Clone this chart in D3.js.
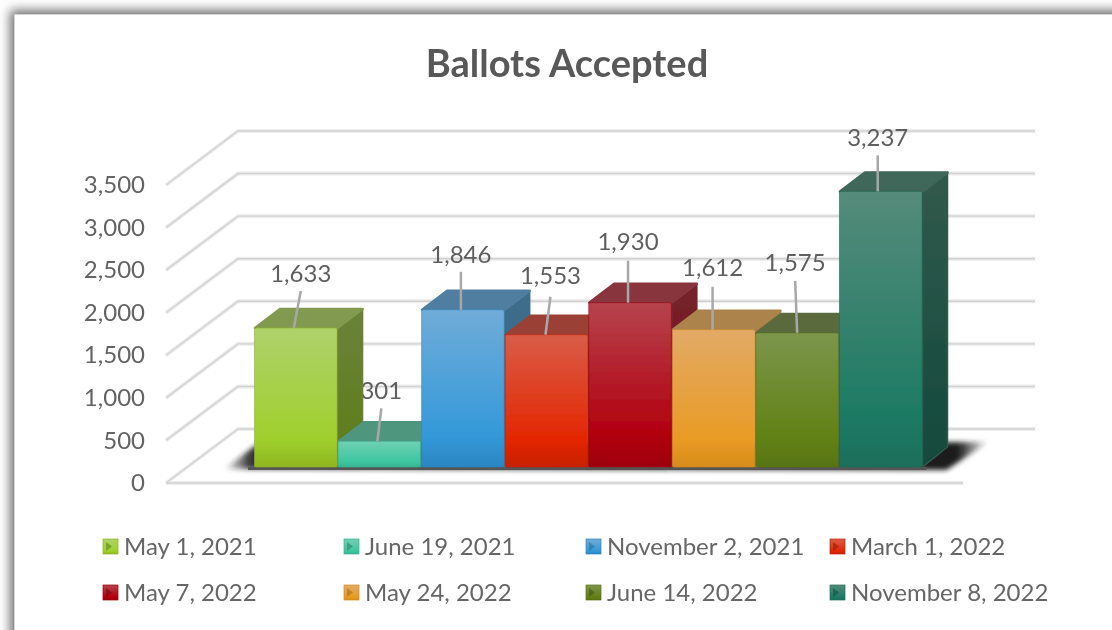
<!DOCTYPE html>
<html>
<head>
<meta charset="utf-8">
<script src="https://cdn.jsdelivr.net/npm/d3@7/dist/d3.min.js"></script>
<style>
html, body { margin: 0; padding: 0; background: #fff; overflow: hidden; }
text { font-family: Lato, "Open Sans", sans-serif; }
</style>
</head>
<body>
<svg class="rend_chart"></svg>
<script>
/////////////// data ////////////////
const DATES = ["May 1, 2021", "June 19, 2021", "November 2, 2021", "March 1, 2022",
    "May 7, 2022", "May 24, 2022", "June 14, 2022", "November 8, 2022"];
const BALLOTS = [1633, 301, 1846, 1553, 1930, 1612, 1575, 3237];
const Y_TICKS = [0, 500, 1000, 1500, 2000, 2500, 3000, 3500];
// front face: top, lower middle, bottom
const FRONT_TOP = ["#afd16c", "#70d0b2", "#70acd8", "#d95d48", "#b6434d", "#e2aa67", "#7c964c", "#558b7a"];
const FRONT_MID = ["#9fd02c", "#3dc6a1", "#3499d9", "#e32600", "#b2000f", "#e99b24", "#618014", "#1e7b64"];
const FRONT_BOT = ["#8fb622", "#35b48f", "#2b86c0", "#c82000", "#9e000e", "#d68c1a", "#587412", "#1a6e5a"];
const TOP_FACE = ["#819a50", "#50967f", "#4f7ea0", "#9a4035", "#88343c", "#ac844c", "#5a6b3c", "#41675a"];
const SIDE_TOP = ["#6b8238", "#3f7f6c", "#3f6d8a", "#84342a", "#75252d", "#a07a40", "#4e5f30", "#32594c"];
const SIDE_BOT = ["#5d7d1a", "#2a7a62", "#2a6a90", "#8a1c05", "#700008", "#a06a14", "#3e5410", "#114a3c"];

/////////////// layout ////////////////
const W = 1112;
const H = 630;
const FRONT_X0 = 166;     // front edge of the floor
const FRONT_X1 = 963;
const DEPTH_X = 72;       // how far the back wall is shifted
const DEPTH_Y = 54;
const BAR_BASE_SHIFT = 16;
const BAR_DEPTH_X = 26;
const BAR_DEPTH_Y = 20;
// label offsets from the bar's front top centre
const LABEL_DX = [5, 2, -2, 4, -2, -1, -2, -3];
const LABEL_DY = [55, 51, 56, 60, 62, 63, 71, 54];
const LEADER_GAP = [18, 18, 18, 22, 20, 20, 19, 18];
const LEADER_X0 = [-2, -2, -2, -1, -2, -1, 0, -3];
const LEGEND_COLS = [103, 344, 586, 830];
const LEGEND_ROWS = [546, 592];

const SCL_Y = d3.scaleLinear().domain([0, 3500]).range([483, 185]);
const SCL_BAR_X = d3.scaleBand().domain(DATES).range([254, 922.5]).padding(0);

const SVG = d3.select(".rend_chart")
    .attr("width", W)
    .attr("height", H)
    .style("display", "block");
const DEFS = SVG.append("defs");

DEFS.append("filter").attr("id", "winShadow")
    .attr("x", -0.1).attr("y", -0.1).attr("width", 1.2).attr("height", 1.2)
    .append("feGaussianBlur").attr("stdDeviation", 5.5);
DEFS.append("filter").attr("id", "floorShadow")
    .attr("x", -0.1).attr("y", -0.5).attr("width", 1.2).attr("height", 2)
    .append("feGaussianBlur").attr("stdDeviation", 2.5);
// the source picture is a soft upscale
DEFS.append("filter").attr("id", "soft")
    .attr("filterUnits", "userSpaceOnUse")
    .attr("x", 0).attr("y", 0).attr("width", W).attr("height", H)
    .append("feGaussianBlur").attr("stdDeviation", 0.6);

function vGrad(id, stops) {
    const g = DEFS.append("linearGradient").attr("id", id)
        .attr("x1", 0).attr("y1", 0).attr("x2", 0).attr("y2", 1);
    stops.forEach(s => g.append("stop").attr("offset", s[0]).attr("stop-color", s[1]));
}
DATES.forEach((d, i) => {
    vGrad(`front${i}`, [[0, FRONT_TOP[i]], [0.8, FRONT_MID[i]], [1, FRONT_BOT[i]]]);
    vGrad(`side${i}`, [[0, SIDE_TOP[i]], [1, SIDE_BOT[i]]]);
});
// floor shadow fades out at both ends
const SHADOW_GRAD = DEFS.append("linearGradient").attr("id", "shadowFade")
    .attr("x1", 0).attr("y1", 0).attr("x2", 1).attr("y2", 0);
[[0, 0], [0.035, 0.9], [0.96, 1], [1, 0]].forEach(s => {
    SHADOW_GRAD.append("stop").attr("offset", s[0])
        .attr("stop-color", "#1c1c1c").attr("stop-opacity", s[1]);
});

/////////////// window shadow ////////////////
SVG.append("rect")
    .attr("x", 10).attr("y", 10).attr("width", W + 60).attr("height", H + 60)
    .attr("fill", "#707070").attr("filter", "url(#winShadow)");
SVG.append("rect")
    .attr("x", 14.5).attr("y", 14.5).attr("width", W + 60).attr("height", H + 60)
    .attr("fill", "#fff").attr("stroke", "#d4d4d4");

const CHART = SVG.append("g").attr("filter", "url(#soft)");

/////////////// title ////////////////
CHART.append("text")
    .attr("x", 567).attr("y", 77)
    .attr("text-anchor", "middle")
    .attr("font-size", 38).attr("font-weight", 700)
    .attr("fill", "#595959")
    .text("Ballots Accepted");

/////////////// grid ////////////////
const GRID_GRP = CHART.append("g").attr("fill", "none");
function gridLine(d) {
    const y0 = SCL_Y(d);
    return d3.line()([[FRONT_X0, y0], [FRONT_X0 + DEPTH_X, y0 - DEPTH_Y], [FRONT_X1 + DEPTH_X, y0 - DEPTH_Y]]);
}
[["#ececec", 4], ["#d2d2d2", 1.4]].forEach(s => {
    GRID_GRP.selectAll(null)
        .data(Y_TICKS)
        .enter()
        .append("path")
        .attr("d", gridLine)
        .attr("stroke", s[0])
        .attr("stroke-width", s[1]);
    GRID_GRP.append("line")
        .attr("x1", FRONT_X0).attr("x2", FRONT_X1)
        .attr("y1", SCL_Y(0)).attr("y2", SCL_Y(0))
        .attr("stroke", s[0])
        .attr("stroke-width", s[1]);
});

/////////////// y axis ////////////////
const AXIS_GRP = CHART.append("g")
    .attr("transform", "translate(145, 0)")
    .call(d3.axisLeft(SCL_Y).tickValues(Y_TICKS).tickSize(0).tickPadding(0).tickFormat(d3.format(",")));
AXIS_GRP.select(".domain").remove();
AXIS_GRP.selectAll("text")
    .attr("font-size", 24)
    .attr("font-family", "Lato")
    .attr("fill", "#636363");

/////////////// floor shadow ////////////////
const BASE_Y = SCL_Y(0) - BAR_BASE_SHIFT;
const BAR_LEFT = SCL_BAR_X(DATES[0]);
const BAR_RIGHT = SCL_BAR_X(DATES[7]) + SCL_BAR_X.bandwidth();
CHART.append("path")
    .attr("d", d3.line()([[BAR_LEFT - 30, BASE_Y + 2], [BAR_LEFT + 2, BASE_Y - 22],
        [BAR_RIGHT + 66, BASE_Y - 25], [BAR_RIGHT + 24, BASE_Y + 3]]) + "Z")
    .attr("fill", "url(#shadowFade)")
    .attr("filter", "url(#floorShadow)");
CHART.append("line")
    .attr("x1", BAR_LEFT - 6).attr("x2", BAR_RIGHT + 4)
    .attr("y1", BASE_Y + 1.5).attr("y2", BASE_Y + 1.5)
    .attr("stroke", "#555").attr("stroke-width", 3);

/////////////// data labels ////////////////
// text goes under the bars: the green bar clips the 3 of 301 in the original
const BAR_CX = d => SCL_BAR_X(d) + SCL_BAR_X.bandwidth() / 2;
const BAR_TOP = v => BASE_Y - (SCL_Y(0) - SCL_Y(v));
CHART.append("g").selectAll("text")
    .data(DATES)
    .enter()
    .append("text")
    .attr("x", (d, i) => BAR_CX(d) + LABEL_DX[i])
    .attr("y", (d, i) => BAR_TOP(BALLOTS[i]) - LABEL_DY[i] + 9)
    .attr("text-anchor", "middle")
    .attr("font-size", 24)
    .attr("fill", "#5e5e5e")
    .text((d, i) => d3.format(",")(BALLOTS[i]));

/////////////// bars ////////////////
const BAR_GRP = CHART.append("g");
DATES.forEach((d, i) => {
    const x0 = SCL_BAR_X(d);
    const x1 = x0 + SCL_BAR_X.bandwidth();
    const top = BAR_TOP(BALLOTS[i]);
    const g = BAR_GRP.append("g").attr("stroke-linejoin", "round");
    // side
    g.append("path")
        .attr("d", d3.line()([[x1, top], [x1 + BAR_DEPTH_X - 1, top - BAR_DEPTH_Y + 1],
            [x1 + BAR_DEPTH_X - 1, BASE_Y - BAR_DEPTH_Y], [x1, BASE_Y]]) + "Z")
        .attr("fill", `url(#side${i})`)
        .attr("stroke", SIDE_TOP[i]).attr("stroke-width", 1.5);
    // top
    g.append("path")
        .attr("d", d3.line()([[x0 + 1, top], [x0 + BAR_DEPTH_X, top - BAR_DEPTH_Y + 1],
            [x1 + BAR_DEPTH_X - 1, top - BAR_DEPTH_Y + 1], [x1, top]]) + "Z")
        .attr("fill", TOP_FACE[i])
        .attr("stroke", TOP_FACE[i]).attr("stroke-width", 2.5);
    // front
    g.append("rect")
        .attr("x", x0 + 0.5).attr("y", top)
        .attr("width", x1 - x0 - 1).attr("height", BASE_Y - top)
        .attr("rx", 1.5)
        .attr("fill", `url(#front${i})`)
        .attr("stroke", FRONT_BOT[i]).attr("stroke-opacity", 0.6).attr("stroke-width", 1);
});

/////////////// leader lines ////////////////
CHART.append("g").selectAll("line")
    .data(DATES)
    .enter()
    .append("line")
    .attr("x1", (d, i) => BAR_CX(d) + LEADER_X0[i])
    .attr("y1", (d, i) => BAR_TOP(BALLOTS[i]))
    .attr("x2", (d, i) => BAR_CX(d) + LABEL_DX[i])
    .attr("y2", (d, i) => BAR_TOP(BALLOTS[i]) - LABEL_DY[i] + LEADER_GAP[i])
    .attr("stroke", "#a8a8a8")
    .attr("stroke-width", 2.5);

/////////////// legend ////////////////
const LEGEND = CHART.append("g").selectAll("g")
    .data(DATES)
    .enter()
    .append("g")
    .attr("transform", (d, i) => `translate(${LEGEND_COLS[i % 4]}, ${LEGEND_ROWS[Math.floor(i / 4)]})`);
LEGEND.append("rect")
    .attr("x", 0).attr("y", -7).attr("width", 15).attr("height", 15)
    .attr("fill", (d, i) => `url(#front${i})`)
    .attr("stroke", (d, i) => FRONT_BOT[i]).attr("stroke-width", 0.7);
LEGEND.append("path")
    .attr("d", d3.line()([[3, -4], [9, 0.5], [3, 5]]) + "Z")
    .attr("fill", (d, i) => SIDE_BOT[i])
    .attr("opacity", 0.55);
LEGEND.append("text")
    .attr("x", 21).attr("y", 8.5)
    .attr("font-size", 24)
    .attr("fill", "#666")
    .text(d => d);
</script>
</body>
</html>
